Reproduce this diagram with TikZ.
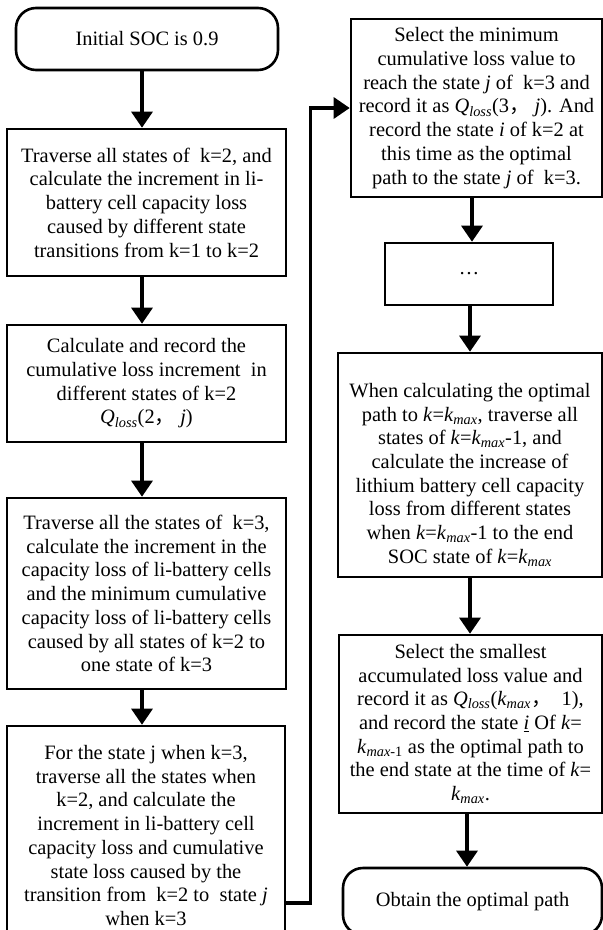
\documentclass[tikz,border=0pt]{standalone}
\usepackage{fontspec}
\setmainfont{Liberation Serif}
\newfontfamily\cjkfont{Noto Sans CJK SC}
\usetikzlibrary{arrows.meta,calc}
\newcommand{\Qloss}{\textit{Q}\textsubscript{\textit{loss}}}
\newcommand{\kmx}{\textit{k}\textsubscript{\textit{max}}}
\newcommand{\fwc}{{\cjkfont ，}}
\begin{document}
\begin{tikzpicture}[x=1bp,y=-1bp,
  font=\fontsize{20.5}{23.8}\selectfont,
  proc/.style={draw, line width=2.6bp, align=center, inner sep=0pt},
  term/.style={proc, rounded corners=20bp},
  flow/.style={line width=3.2bp, -{Triangle[width=21bp,length=16bp]}}]
\clip (0,0) rectangle (603,930);
\fill[white] (0,0) rectangle (603,930);

% left column
\node[term, minimum width=262bp, minimum height=62bp] (s) at (147,39) {Initial SOC is 0.9};
\node[proc, minimum width=279bp, minimum height=147bp] (b2) at (146.5,202.5)
 {Traverse all states of\ \ k=2, and\\
  calculate the increment in li-\\
  battery cell capacity loss\\
  caused by different state\\
  transitions from k=1 to k=2};
\node[proc, minimum width=279bp, minimum height=117bp] (b3) at (146.5,383.5)
 {Calculate and record the\\
  cumulative loss increment\ \ in\\
  different states of k=2\\
  \Qloss(2\fwc\ \textit{j})};
\node[proc, minimum width=279bp, minimum height=191bp] (b4) at (146.5,593.5)
 {Traverse all the states of\ \ k=3,\\
  calculate the increment in the\\
  capacity loss of li-battery cells\\
  and the minimum cumulative\\
  capacity loss of li-battery cells\\
  caused by all states of k=2 to\\
  one state of k=3};
\node[proc, minimum width=278bp, minimum height=219bp] (b5) at (146,835.5)
 {For the state j when k=3,\\
  traverse all the states when\\
  k=2, and calculate the\\
  increment in li-battery cell\\
  capacity loss and cumulative\\
  state loss caused by the\\
  transition from\ \ k=2 to\ \ state \textit{j}\\
  when k=3};

% right column
\node[proc, minimum width=251bp, minimum height=178bp] (b6) at (476.5,108)
 {Select the minimum\\
  cumulative loss value to\\
  reach the state \textit{j} of\ \ k=3 and\\
  record it as \Qloss(3\fwc\ \textit{j}). And\\
  record the state \textit{i} of k=2 at\\
  this time as the optimal\\
  path to the state \textit{j} of\ \ k=3.};
\node[proc, minimum width=168bp, minimum height=62bp] (b7) at (469,274) {\dots};
\node[proc, minimum width=264bp, minimum height=224bp] (b8) at (470,465)
 {\rule{0pt}{34bp}When calculating the optimal\\
  path to \textit{k}=\kmx, traverse all\\
  states of \textit{k}=\kmx-1, and\\
  calculate the increase of\\
  lithium battery cell capacity\\
  loss from different states\\
  when \textit{k}=\kmx-1 to the end\\
  SOC state of \textit{k}=\kmx};
\node[proc, minimum width=263bp, minimum height=178bp] (b9) at (470.5,724)
 {Select the smallest\\
  accumulated loss value and\\
  record it as \Qloss(\kmx\fwc\ \ 1),\\
  and record the state \underline{\textit{i}} Of \textit{k}=\\
  \textit{k}\textsubscript{\textit{max}-1} as the optimal path to\\
  the end state at the time of \textit{k}=\\
  \kmx.};
\node[term, minimum width=259bp, minimum height=67bp] (e) at (472.5,901.5) {Obtain the optimal path};

% connectors
\draw[flow] ([xshift=-5bp]s.south) -- ([xshift=-5bp]s.south |- b2.north);
\draw[flow] ([xshift=-4.5bp]b2.south) -- ([xshift=-4.5bp]b2.south |- b3.north);
\draw[flow] ([xshift=-4.5bp]b3.south) -- ([xshift=-4.5bp]b3.south |- b4.north);
\draw[flow] ([xshift=-4.5bp]b4.south) -- ([xshift=-4.5bp]b4.south |- b5.north);
\draw[flow] ([xshift=-4.5bp]b6.south) -- ([xshift=-4.5bp]b6.south |- b7.north);
\draw[flow] ([xshift=1bp]b7.south) -- ([xshift=1bp]b7.south |- b8.north);
\draw[flow] (b8.south) -- (b8.south |- b9.north);
\draw[flow] ([xshift=-3.5bp]b9.south) -- ([xshift=-3.5bp]b9.south |- e.north);
\draw[flow] ([yshift=-67.5bp]b5.east) -| ([xshift=-39bp]b6.west) -- (b6.west);
\end{tikzpicture}
\end{document}
